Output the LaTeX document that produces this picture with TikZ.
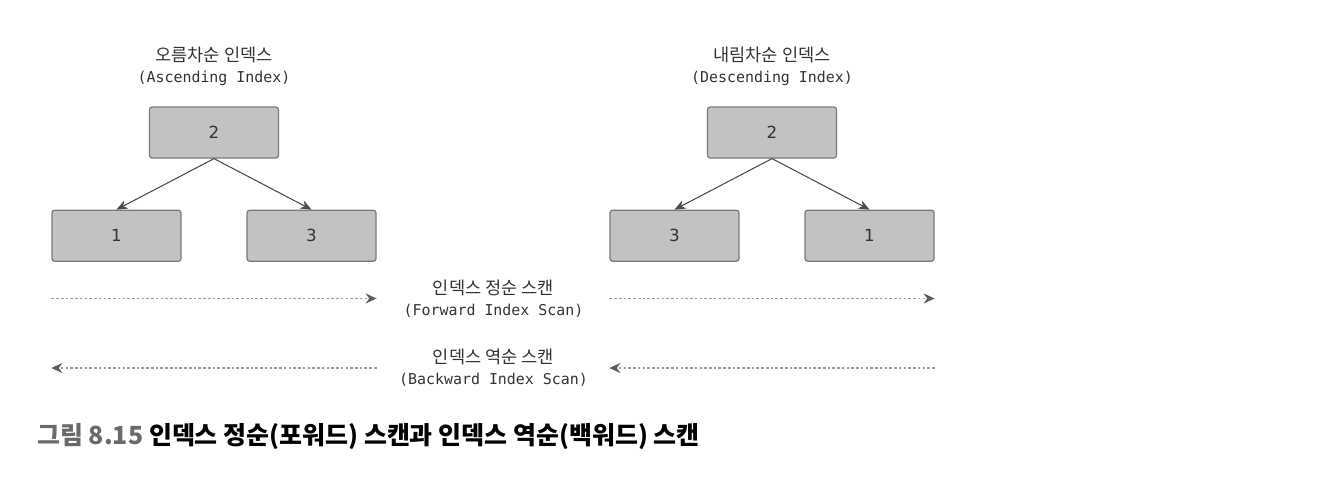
\documentclass[tikz,border=0pt]{standalone}
\usepackage{fontspec}
\setmainfont{DejaVu Sans}
\setmonofont{DejaVu Sans Mono}
\newfontfamily\cjk{Noto Sans CJK KR}[WordSpace=2.2]
\newfontfamily\cjkcap{Noto Sans CJK KR}
\usepackage{xcolor}
\definecolor{colorBox}{HTML}{C2C2C2}
\definecolor{colorBorder}{HTML}{7A7A7A}
\definecolor{colorEdge}{HTML}{4A4A4A}
\definecolor{colorScan}{HTML}{9C9C9C}
\definecolor{colorTip}{HTML}{5E5E5E}
\definecolor{colorFig}{HTML}{6A6A6A}
\definecolor{colorText}{HTML}{333333}
\usepackage{tikz}
\usetikzlibrary{arrows.meta, positioning}
\tikzset{
  keynode/.style={draw=colorBorder, fill=colorBox, rounded corners=1.5pt, line width=0.7pt,
    minimum width=2.58cm, minimum height=1.02cm, text=colorText, font=\fontsize{9.5}{11}\selectfont},
  treetitle/.style={align=center, inner sep=0pt, text=colorText, font=\ttfamily\fontsize{8.5}{12}\selectfont},
  treeedge/.style={->, colorEdge, line width=0.6pt},
  scanline/.style={colorScan, line width=0.8pt, dash pattern=on 1.5pt off 1.2pt,
    -{Stealth[length=2.2mm, width=2mm, color=colorTip]}}
}

\begin{document}
\begin{tikzpicture}[>={Stealth[length=2.2mm, width=1.8mm]}, node distance=1.02cm]
\useasboundingbox (0,0) rectangle (26.68,-9.84);
% ascending index
\node[keynode] (asc2) at (4.28,-2.65) {2};
\node[keynode, below=of asc2, xshift=-1.95cm] (asc1) {1};
\node[keynode, below=of asc2, xshift=1.95cm] (asc3) {3};
\node[treetitle, above=0.4cm of asc2] (ascTitle) {{\cjk\fontsize{10}{12}\selectfont 오름차순 인덱스}\\(Ascending Index)};
% descending index
\node[keynode] (desc2) at (15.44,-2.65) {2};
\node[keynode, below=of desc2, xshift=-1.95cm] (desc3) {3};
\node[keynode, below=of desc2, xshift=1.95cm] (desc1) {1};
\node[treetitle, above=0.4cm of desc2] (descTitle) {{\cjk\fontsize{10}{12}\selectfont 내림차순 인덱스}\\(Descending Index)};
\draw [treeedge] (asc2.south) -- (asc1.north);
\draw [treeedge] (asc2.south) -- (asc3.north);
\draw [treeedge] (desc2.south) -- (desc3.north);
\draw [treeedge] (desc2.south) -- (desc1.north);
% scans
\node[treetitle] (fwdLabel) at (9.87,-5.97) {{\cjk\fontsize{10}{12}\selectfont 인덱스 정순 스캔}\\(Forward Index Scan)};
\node[treetitle] (bwdLabel) at (9.87,-7.36) {{\cjk\fontsize{10}{12}\selectfont 인덱스 역순 스캔}\\(Backward Index Scan)};
\coordinate (fwdA) at (asc1.west |- fwdLabel);
\coordinate (fwdB) at (asc3.east |- fwdLabel);
\coordinate (fwdC) at (desc3.west |- fwdLabel);
\coordinate (fwdD) at (desc1.east |- fwdLabel);
\coordinate (bwdA) at (asc1.west |- bwdLabel);
\coordinate (bwdB) at (asc3.east |- bwdLabel);
\coordinate (bwdC) at (desc3.west |- bwdLabel);
\coordinate (bwdD) at (desc1.east |- bwdLabel);
\draw [scanline] (fwdA) -- (fwdB);
\draw [scanline] (fwdC) -- (fwdD);
\draw [scanline] (bwdB) -- (bwdA);
\draw [scanline] (bwdD) -- (bwdC);
% caption
\node[anchor=west, inner sep=0pt, font=\cjkcap\bfseries\fontsize{14.2}{16}\selectfont] (figCaption) at (0.74,-8.74)
  {{\color{colorFig}그림 8.15} 인덱스 정순(포워드) 스캔과 인덱스 역순(백워드) 스캔};
\end{tikzpicture}
\end{document}
